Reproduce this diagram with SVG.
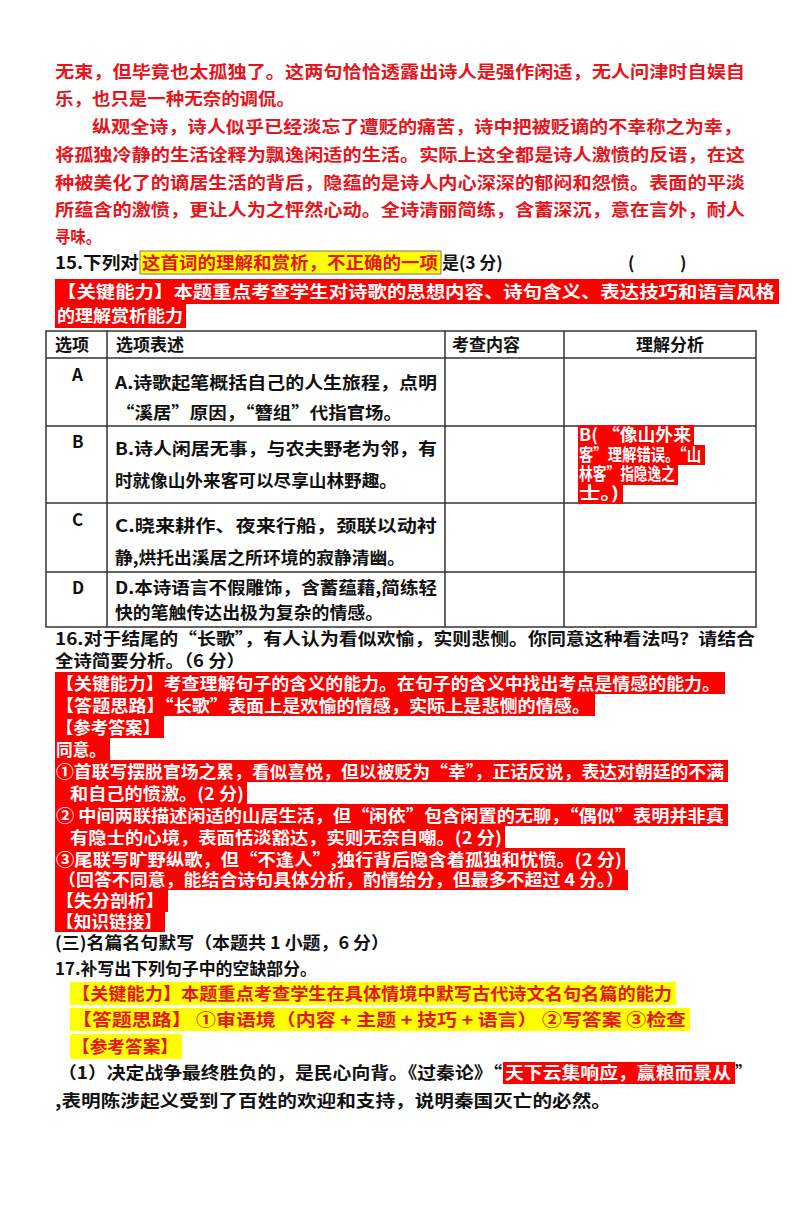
<svg xmlns="http://www.w3.org/2000/svg" width="800" height="1209" viewBox="0 0 800 1209">
<style>
text{font-family:"Noto Sans CJK SC","Liberation Serif",serif;font-size:17px;font-weight:bold}
.r{fill:#e8141b}
.w{fill:#fff}
.k{fill:#111}
.hl{fill:#ff0000}
.yh{fill:#ffff00}
.g{stroke:#333;stroke-width:1.5;fill:none}
</style>
<rect width="800" height="1209" fill="#fff"/>
<g id="para">
<text class="r" x="55" y="78" textLength="690" lengthAdjust="spacingAndGlyphs">无束，但毕竟也太孤独了。这两句恰恰透露出诗人是强作闲适，无人问津时自娱自</text>
<text class="r" x="55" y="105" textLength="240" lengthAdjust="spacingAndGlyphs">乐，也只是一种无奈的调侃。</text>
<text class="r" x="92" y="133" textLength="650" lengthAdjust="spacingAndGlyphs">纵观全诗，诗人似乎已经淡忘了遭贬的痛苦，诗中把被贬谪的不幸称之为幸，</text>
<text class="r" x="55" y="161" textLength="690" lengthAdjust="spacingAndGlyphs">将孤独冷静的生活诠释为飘逸闲适的生活。实际上这全都是诗人激愤的反语，在这</text>
<text class="r" x="55" y="189" textLength="690" lengthAdjust="spacingAndGlyphs">种被美化了的谪居生活的背后，隐蕴的是诗人内心深深的郁闷和怨愤。表面的平淡</text>
<text class="r" x="55" y="216" textLength="690" lengthAdjust="spacingAndGlyphs">所蕴含的激愤，更让人为之怦然心动。全诗清丽简练，含蓄深沉，意在言外，耐人</text>
<text class="r" x="55" y="243" textLength="46" lengthAdjust="spacingAndGlyphs">寻味。</text>
</g>
<g id="q15">
<rect class="yh" x="140" y="251" width="301" height="23" stroke="#777" stroke-width="1"/>
<text class="k" x="55" y="269" textLength="84" lengthAdjust="spacingAndGlyphs">15.下列对</text>
<text class="r" x="142" y="269" textLength="296" lengthAdjust="spacingAndGlyphs">这首词的理解和赏析，不正确的一项</text>
<text class="k" x="442" y="269">是(3 分)</text>
<text class="k" x="628" y="269">(</text>
<text class="k" x="680" y="269">)</text>
<rect class="hl" x="55" y="279" width="724" height="25"/>
<rect class="hl" x="55" y="304" width="131" height="24"/>
<text class="w" x="57" y="298" textLength="718" lengthAdjust="spacingAndGlyphs">【关键能力】本题重点考查学生对诗歌的思想内容、诗句含义、表达技巧和语言风格</text>
<text class="w" x="57" y="322" textLength="126" lengthAdjust="spacingAndGlyphs">的理解赏析能力</text>
</g>
<g id="table">
<rect class="g" x="46" y="331" width="710" height="296"/>
<line class="g" x1="46" y1="358" x2="756" y2="358"/>
<line class="g" x1="46" y1="426" x2="756" y2="426"/>
<line class="g" x1="46" y1="503" x2="756" y2="503"/>
<line class="g" x1="46" y1="572" x2="756" y2="572"/>
<line class="g" x1="107" y1="331" x2="107" y2="627"/>
<line class="g" x1="445" y1="331" x2="445" y2="627"/>
<line class="g" x1="564" y1="331" x2="564" y2="627"/>
<text class="k" x="55" y="351" font-size="16">选项</text>
<text class="k" x="116" y="351" font-size="16">选项表述</text>
<text class="k" x="452" y="351" font-size="16">考查内容</text>
<text class="k" x="636" y="351" font-size="16">理解分析</text>
<text class="k" x="72" y="381" font-size="15">A</text>
<text class="k" x="72" y="448" font-size="15">B</text>
<text class="k" x="72" y="526" font-size="15">C</text>
<text class="k" x="72" y="594" font-size="15">D</text>
<text class="k" x="115" y="389" textLength="322" lengthAdjust="spacingAndGlyphs">A.诗歌起笔概括自己的人生旅程，点明</text>
<text class="k" x="116" y="419" textLength="286" lengthAdjust="spacingAndGlyphs">“溪居”原因，“簪组”代指官场。</text>
<text class="k" x="115" y="455" textLength="322" lengthAdjust="spacingAndGlyphs">B.诗人闲居无事，与农夫野老为邻，有</text>
<text class="k" x="115" y="487" textLength="282" lengthAdjust="spacingAndGlyphs">时就像山外来客可以尽享山林野趣。</text>
<text class="k" x="115" y="532" textLength="322" lengthAdjust="spacingAndGlyphs">C.晓来耕作、夜来行船，颈联以动衬</text>
<text class="k" x="115" y="564" textLength="290" lengthAdjust="spacingAndGlyphs">静,烘托出溪居之所环境的寂静清幽。</text>
<text class="k" x="115" y="594" textLength="322" lengthAdjust="spacingAndGlyphs">D.本诗语言不假雕饰，含蓄蕴藉,简练轻</text>
<text class="k" x="115" y="619" textLength="268" lengthAdjust="spacingAndGlyphs">快的笔触传达出极为复杂的情感。</text>
<rect class="hl" x="578" y="425" width="116" height="20"/>
<rect class="hl" x="578" y="445" width="127" height="20"/>
<rect class="hl" x="578" y="465" width="100" height="20"/>
<rect class="hl" x="578" y="485" width="45" height="19"/>
<text class="w" x="579" y="441" font-size="14" textLength="112" lengthAdjust="spacingAndGlyphs">B( “像山外来</text>
<text class="w" x="579" y="461" font-size="14" textLength="122" lengthAdjust="spacingAndGlyphs">客”理解错误。“山</text>
<text class="w" x="579" y="480" font-size="14" textLength="96" lengthAdjust="spacingAndGlyphs">林客”指隐逸之</text>
<text class="w" x="579" y="499" font-size="14" textLength="40" lengthAdjust="spacingAndGlyphs">士。)</text>
</g>
<g id="q16">
<text class="k" x="55" y="645" textLength="700" lengthAdjust="spacingAndGlyphs">16.对于结尾的“长歌”，有人认为看似欢愉，实则悲恻。你同意这种看法吗？请结合</text>
<text class="k" x="55" y="667" textLength="190" lengthAdjust="spacingAndGlyphs">全诗简要分析。（6 分）</text>
<rect class="hl" x="55" y="672" width="670" height="22"/>
<rect class="hl" x="55" y="694" width="540" height="22"/>
<rect class="hl" x="55" y="716" width="109" height="22"/>
<rect class="hl" x="55" y="738" width="55" height="22"/>
<rect class="hl" x="55" y="760" width="673" height="22"/>
<rect class="hl" x="55" y="782" width="192" height="22"/>
<rect class="hl" x="55" y="804" width="673" height="22"/>
<rect class="hl" x="55" y="826" width="450" height="22"/>
<rect class="hl" x="55" y="848" width="570" height="22"/>
<rect class="hl" x="55" y="870" width="573" height="20"/>
<rect class="hl" x="55" y="890" width="113" height="22"/>
<rect class="hl" x="55" y="912" width="110" height="20"/>
<text class="w" x="56" y="690" textLength="664" lengthAdjust="spacingAndGlyphs">【关键能力】考查理解句子的含义的能力。在句子的含义中找出考点是情感的能力。</text>
<text class="w" x="56" y="712" textLength="534" lengthAdjust="spacingAndGlyphs">【答题思路】“长歌”表面上是欢愉的情感，实际上是悲恻的情感。</text>
<text class="w" x="56" y="734" textLength="104" lengthAdjust="spacingAndGlyphs">【参考答案】</text>
<text class="w" x="56" y="756" textLength="50" lengthAdjust="spacingAndGlyphs">同意。</text>
<text class="w" x="56" y="778" textLength="668" lengthAdjust="spacingAndGlyphs">①首联写摆脱官场之累，看似喜悦，但以被贬为“幸”，正话反说，表达对朝廷的不满</text>
<text class="w" x="70" y="800" textLength="174" lengthAdjust="spacingAndGlyphs">和自己的愤激。(2 分)</text>
<text class="w" x="56" y="822" textLength="668" lengthAdjust="spacingAndGlyphs">② 中间两联描述闲适的山居生活，但“闲依”包含闲置的无聊，“偶似”表明并非真</text>
<text class="w" x="70" y="844" textLength="432" lengthAdjust="spacingAndGlyphs">有隐士的心境，表面恬淡豁达，实则无奈自嘲。(2 分)</text>
<text class="w" x="56" y="866" textLength="566" lengthAdjust="spacingAndGlyphs">③尾联写旷野纵歌，但“不逢人”,独行背后隐含着孤独和忧愤。(2 分)</text>
<text class="w" x="58" y="886" textLength="566" lengthAdjust="spacingAndGlyphs">（回答不同意，能结合诗句具体分析，酌情给分，但最多不超过 4 分。）</text>
<text class="w" x="56" y="907" textLength="108" lengthAdjust="spacingAndGlyphs">【失分剖析】</text>
<text class="w" x="56" y="928" font-size="16" textLength="106" lengthAdjust="spacingAndGlyphs">【知识链接】</text>
</g>
<g id="q17">
<text class="k" x="55" y="949" textLength="334" lengthAdjust="spacingAndGlyphs">(三)名篇名句默写（本题共 1 小题，6 分）</text>
<text class="k" x="55" y="975" textLength="262" lengthAdjust="spacingAndGlyphs">17.补写出下列句子中的空缺部分。</text>
<rect class="yh" x="70" y="982" width="606" height="23"/>
<rect class="yh" x="70" y="1008" width="620" height="23"/>
<rect class="yh" x="70" y="1034" width="112" height="25"/>
<text class="r" x="72" y="1000" textLength="600" lengthAdjust="spacingAndGlyphs">【关键能力】本题重点考查学生在具体情境中默写古代诗文名句名篇的能力</text>
<text class="r" x="72" y="1026" textLength="614" lengthAdjust="spacingAndGlyphs">【答题思路】 ①审语境（内容 + 主题 + 技巧 + 语言） ②写答案  ③检查</text>
<text class="r" x="72" y="1053" textLength="106" lengthAdjust="spacingAndGlyphs">【参考答案】</text>
<rect class="hl" x="503" y="1062" width="232" height="22"/>
<text class="k" x="58" y="1079" textLength="444" lengthAdjust="spacingAndGlyphs">（1）决定战争最终胜负的，是民心向背。《过秦论》“</text>
<text class="w" x="505" y="1079" textLength="226" lengthAdjust="spacingAndGlyphs">天下云集响应，赢粮而景从</text>
<text class="k" x="735" y="1079">”</text>
<text class="k" x="55" y="1107" textLength="556" lengthAdjust="spacingAndGlyphs">,表明陈涉起义受到了百姓的欢迎和支持，说明秦国灭亡的必然。</text>
</g>
</svg>
